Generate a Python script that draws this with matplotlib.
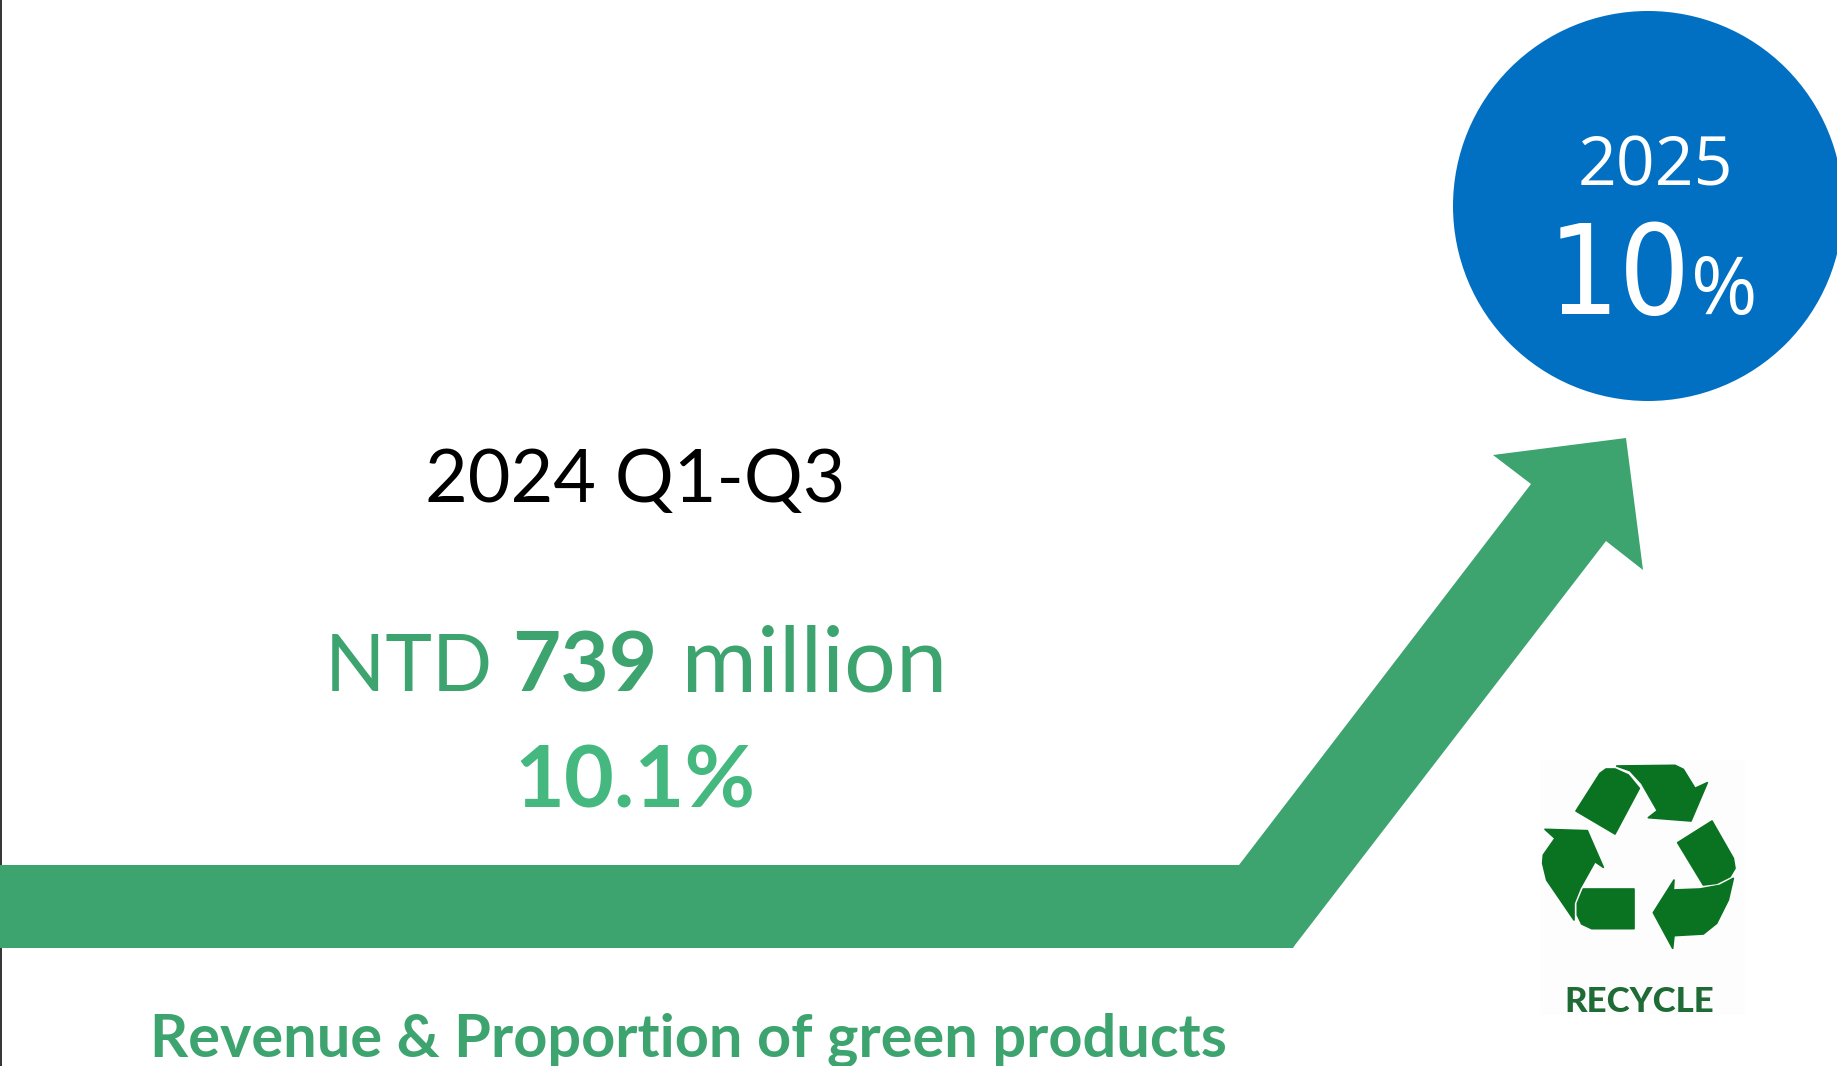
import matplotlib
matplotlib.use("Agg")
import matplotlib.pyplot as plt
from matplotlib.patches import Circle, Polygon, Rectangle

# figures shown on the slide
period = "2024 Q1-Q3"
revenue_musd = 739
green_share = 10.1
target_year = 2025
target_share = 10
caption = "Revenue & Proportion of green products"

GREEN = "#3DA46F"
LIGHT_GREEN = "#44B87F"
BLUE = "#0270C2"
ICON_GREEN = "#0A7322"
MAIN_FONT = "Lato"
ROUND_FONT = "Open Sans"

# pixel canvas, y pointing down
W, H = 1837, 1066
fig = plt.figure(figsize=(W / 100, H / 100), dpi=100)
ax = fig.add_axes([0, 0, 1, 1])
ax.set_xlim(0, W)
ax.set_ylim(H, 0)
ax.axis("off")

# thin rule down the left edge
ax.plot([0.8, 0.8], [0, H], color="#222222", lw=1.3, zorder=1)

# rising arrow
arrow_outline = [
    (0, 865), (1239, 865), (1531, 484), (1493, 455), (1626, 438),
    (1643, 570), (1606, 541), (1295, 945), (1293, 948), (0, 948),
]
ax.add_patch(Polygon(arrow_outline, closed=True, fc=GREEN, ec="none", zorder=2))

# target circle
ax.add_patch(Circle((1648, 206), 195, fc=BLUE, ec="none", zorder=2))


def draw_run(pieces, x_left, baseline):
    """Draw (text, size, weight, colour, family, stretch) pieces one after the other."""
    renderer = fig.canvas.get_renderer()
    x = x_left
    for text, size, weight, color, family, stretch in pieces:
        t = ax.text(x, baseline, text, fontsize=size, fontweight=weight, color=color,
                    family=family, stretch=stretch, ha="left", va="baseline", zorder=3)
        x += t.get_window_extent(renderer).width
    return x


ax.text(635, 502, period, fontsize=53, color="black", family=MAIN_FONT,
        ha="center", va="baseline", zorder=3)

draw_run([
    ("NTD ", 57, "normal", GREEN, MAIN_FONT, "normal"),
    (str(revenue_musd), 60, "bold", GREEN, MAIN_FONT, "normal"),
    (" million", 66, "normal", GREEN, MAIN_FONT, "normal"),
], 325, 691)

ax.text(635, 807, f"{green_share}%", fontsize=62, fontweight="bold", color=LIGHT_GREEN,
        family=MAIN_FONT, ha="center", va="baseline", zorder=3)

ax.text(688, 1057, caption, fontsize=42.8, fontweight="bold", color=GREEN,
        family=MAIN_FONT, ha="center", va="baseline", zorder=3)

# text inside the circle
ax.text(1655, 185, str(target_year), fontsize=49, color="white",
        family=ROUND_FONT, ha="center", va="baseline", zorder=3)
draw_run([
    (str(target_share), 90, "normal", "white", "DejaVu Sans", "condensed"),
    ("%", 58, "normal", "white", ROUND_FONT, "normal"),
], 1548, 314)

# recycling symbol, three bands and three arrows
recycle_parts = [
    [(228, 213), (300, 100), (318, 87), (345, 87), (385, 105), (418, 145), (345, 282)],
    [(350, 78), (525, 76), (550, 88), (585, 145), (622, 128), (573, 243), (445, 233),
     (472, 212), (445, 165), (425, 130), (390, 92)],
    [(533, 308), (636, 243), (700, 355), (705, 385), (690, 410), (650, 430), (610, 435)],
    [(700, 415), (685, 480), (650, 550), (610, 582), (522, 587), (518, 625), (460, 518),
     (522, 420), (520, 450), (600, 447), (660, 436)],
    [(402, 447), (402, 566), (275, 566), (245, 552), (232, 525), (232, 490), (250, 447)],
    [(135, 268), (262, 272), (310, 382), (285, 365), (240, 445), (222, 490), (222, 540),
     (140, 420), (128, 370), (130, 345), (165, 295)],
]
ax.add_patch(Rectangle((1540, 760), 205, 255, fc="#FDFDFD", ec="none", zorder=1))
for part in recycle_parts:
    pts = [(1500 + px / 3, 740 + py / 3) for px, py in part]
    ax.add_patch(Polygon(pts, closed=True, fc=ICON_GREEN, ec=ICON_GREEN, lw=1.2,
                         joinstyle="round", zorder=3))

ax.text(1639, 1012, "RECYCLE", fontsize=25, fontweight="black", color="#1F6B36",
        family=MAIN_FONT, ha="center", va="baseline", zorder=3)

fig.savefig("out.png", dpi=100, facecolor="white")
